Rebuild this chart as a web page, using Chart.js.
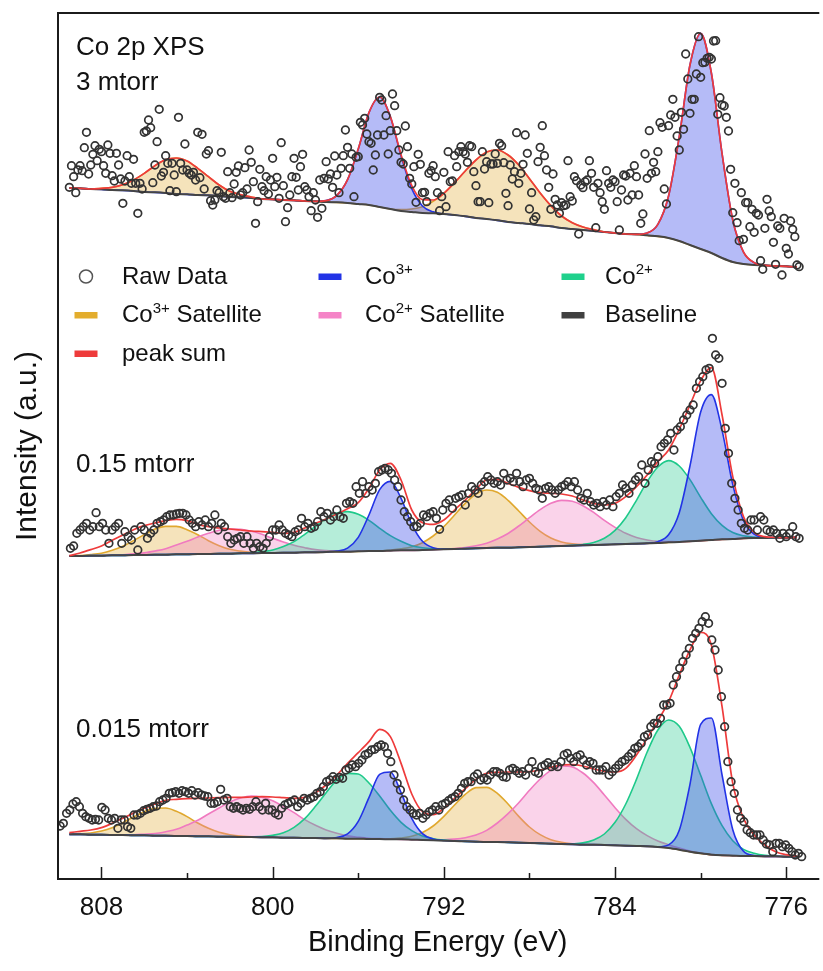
<!DOCTYPE html>
<html>
<head>
<meta charset="utf-8">
<title>Co 2p XPS</title>
<script src="https://cdn.jsdelivr.net/npm/chart.js@4.4.1/dist/chart.umd.min.js"></script>
<style>
  html, body { margin: 0; padding: 0; background: #fff; }
  #chart { display: block; }
</style>
</head>
<body>
<canvas id="chart" width="823" height="971"></canvas>
<script>
// binding energy grid of the fitted curves (eV)
const fitEnergy = [809.5,809,808.5,808,807.5,807,806.5,806,805.5,805,
  804.5,804,803.5,803,802.5,802,801.5,801,800.5,800,
  799.5,799,798.5,798,797.5,797,796.5,796,795.5,795,
  794.5,794,793.5,793,792.5,792,791.5,791,790.5,790,
  789.5,789,788.5,788,787.5,787,786.5,786,785.5,785,
  784.5,784,783.5,783,782.5,782,781.5,781,780.5,780,
  779.5,779,778.5,778,777.5,777,776.5,776,775.5];

const majorTicks = [808, 800, 792, 784, 776];
const minorTicks = [804, 796, 788, 780];

// ---- 3 mtorr (top trace, intensity in a.u. incl. vertical offset) ----
const topBase = [2436,2435,2433,2432,2430,2429,2427,2424,2423,2421,
  2418,2417,2415,2414,2412,2409,2408,2406,2403,2402,
  2400,2399,2397,2396,2394,2393,2391,2388,2385,2379,
  2373,2367,2364,2361,2360,2358,2355,2351,2346,2343,
  2339,2334,2331,2328,2324,2321,2316,2313,2310,2307,
  2304,2301,2298,2297,2294,2291,2286,2277,2265,2253,
  2241,2226,2214,2208,2205,2204,2202,2201,2199];
// component heights above the baseline
const topCo3 = [0,0,0,0,0,0,0,0,0,0,
  0,0,0,0,0,0,0,0,0,0,
  0,0,0,0,4.5,21,70,165,277,330,
  277,165,70,21,4.5,0,0,0,0,0,
  0,0,0,0,0,0,0,0,0,0,
  0,0,0,0,7,36,126,313,540,647,
  540,313,126,36,7,0,0,0,0];
const topCo3Sat = [0,0,0,3,8,17,33,56,80,100,
  108,100,80,56,33,17,8,3,0,0,
  0,0,0,0,0,0,0,0,0,0,
  0,4,9,19,36,62,97,136,174,201,
  211,201,174,136,97,62,36,19,9,4,
  0,0,0,0,0,0,0,0,0,0,
  0,0,0,0,0,0,0,0,0];
const topSum = [2436,2435,2433,2435,2438,2446,2460,2480,2503,2521,
  2526,2517,2495,2470,2445,2426,2416,2409,2403,2402,
  2400,2399,2397,2396,2398,2414,2461,2553,2662,2709,
  2650,2536,2443,2401,2400,2420,2452,2487,2520,2544,
  2550,2535,2505,2464,2421,2383,2352,2332,2319,2311,
  2304,2301,2298,2297,2301,2327,2412,2590,2805,2900,
  2781,2539,2340,2244,2212,2204,2202,2201,2199];
// raw counts, from 809.5 eV in 0.1 eV steps
const topRaw = [2438,2503,2470,2422,2490,2503,2488,2557,2603,2478,
  2505,2537,2563,2518,2552,2545,2503,2480,2565,2540,
  2473,2457,2540,2505,2463,2390,2457,2533,2470,2450,
  2522,2450,2360,2450,2433,2603,2607,2640,2617,2452,
  2505,2575,2672,2472,2483,2533,2510,2428,2510,2475,
  2425,2648,2510,2490,2568,2490,2480,2475,2483,2460,
  2603,2467,2597,2433,2538,2548,2398,2385,2400,2428,
  2422,2543,2410,2405,2485,2422,2407,2448,2483,2502,
  2415,2422,2497,2433,2550,2513,2455,2330,2395,2492,
  2440,2428,2470,2418,2460,2525,2440,2468,2405,2572,
  2443,2335,2377,2415,2470,2525,2468,2430,2500,2537,
  2440,2430,2410,2368,2422,2400,2348,2460,2375,2465,
  2515,2463,2478,2438,2532,2475,2422,2495,2533,2610,
  2558,2495,2538,2410,2528,2530,2633,2625,2645,2598,
  2575,2570,2490,2535,2595,2708,2700,2595,2653,2538,
  2608,2718,2683,2608,2550,2513,2508,2622,2560,2465,
  2448,2500,
  2393,2537,2507,2422,2423,2395,2480,2488,2503,2470,
  2422,2368,2410,2483,2380,2545,2455,2457,2533,2500,
  2545,2560,2545,2538,2513,2563,2560,2485,2443,2395,
  2395,2545,2493,2515,2392,2508,2508,2538,2510,2570,
  2563,2512,2420,2383,2505,2463,2485,2602,2450,2480,
  2507,2595,2540,2373,2422,2340,2350,2515,2558,2623,
  2533,2490,2438,2372,2478,2402,2385,2360,2392,2383,
  2385,2518,2410,2397,2470,2458,2298,2445,2437,2455,
  2460,2518,2480,2438,2317,2450,2422,2395,2372,2488,
  2450,2438,2460,2455,2395,2310,2430,2475,2472,2400,
  2480,2415,2503,2470,2415,2330,2358,2538,2465,2608,
  2480,2513,2485,2545,2632,2618,2433,2388,2623,2655,
  2702,2648,2592,2550,2663,2612,2838,2763,2660,2702,
  2702,2778,2890,2768,2812,2813,2825,2828,2823,2877,
  2878,2657,2707,2685,2682,2648,2607,2492,2362,2450,
  2332,2278,2422,2282,2392,2392,2320,2372,2303,2360,
  2355,2218,2192,2315,2402,2367,2350,2273,2207,2322,
  2315,2175,2345,2255,2238,2337,2312,2290,2205,2200];

// ---- 0.15 mtorr (middle trace) ----
const midBase = [1332,1332,1333,1333,1334,1334,1335,1335,1336,1336,
  1337,1337,1338,1338,1339,1339,1340,1340,1341,1341,
  1342,1342,1343,1343,1344,1345,1345,1346,1347,1347,
  1348,1349,1349,1350,1351,1352,1353,1354,1355,1356,
  1357,1357,1358,1359,1360,1361,1362,1363,1364,1365,
  1366,1367,1368,1369,1370,1371,1373,1374,1376,1378,
  1380,1382,1383,1385,1386,1386,1387,1387,1388];
const midCo3 = [0,0,0,0,0,0,0,0,0,0,
  0,0,0,0,0,0,0,0,0,0,
  0,0,0,0,0,1.8,10.8,42,108,184,
  208,156,78,26,5.6,0.8,0,0,0,0,
  0,0,0,0,0,0,0,0,0,0,
  0,0,0,0,0,3.9,22.6,88,226,386,
  436,327,163,54,11.8,1.7,0,0,0];
const midCo2 = [0,0,0,0,0,0,0,0,0,0,
  0,0,0,0,0,0,0,1.6,4.1,9.2,
  18.5,33,54,78,100,116,120,111,92,68,
  45,27,14,6.7,2.9,1.1,0,0,0,0,
  0,0,0,0,0,0,0.2,0.8,2.7,7.7,
  19.3,42,79,130,185,228,245,228,185,130,
  79,42,19.3,7.7,2.7,0.8,0,0,0];
const midCo3Sat = [0.5,1.3,3.3,7.5,15,27,43,61,77,85,
  84,74,58,40,24,13,6.5,3,1,0,
  0,0,0,0,0,0,0,0,0,0,
  1.7,4.5,10.6,22,41,68,102,136,163,174,
  166,142,109,75,46,25,12,5.4,2.1,0.8,
  0,0,0,0,0,0,0,0,0,0,
  0,0,0,0,0,0,0,0,0];
const midCo2Sat = [0,0,0,0.3,0.8,1.7,3.4,6.3,11,18,
  28,39,51,62,70,74,72,66,56,44,
  32,22,14,8,4.4,2.2,1,0.4,0,0,
  0,0,0,0,0,0.6,1.5,3.5,7.5,14.5,
  26,42.5,64,88,111,129,137,133,119,98,
  73,51,32,18.5,10,4.8,2.2,0.9,0,0,
  0,0,0,0,0,0,0,0,0];
const midSum = [1333,1341,1351,1362,1379,1395,1411,1423,1431,1438,
  1442,1438,1427,1420,1416,1413,1410,1407,1405,1403,
  1400,1403,1416,1430,1443,1458,1474,1492,1535,1590,
  1610,1560,1470,1432,1427,1440,1470,1500,1532,1560,
  1562,1550,1538,1528,1522,1520,1518,1512,1500,1490,
  1485,1490,1510,1540,1575,1615,1650,1712,1785,1858,
  1897,1755,1570,1450,1403,1390,1388,1387,1388];
// raw counts, from 809.45 eV in 0.15 eV steps
const midRaw = [1355,1362,1400,1410,1420,1430,1410,1420,1462,1420,
  1430,1410,1370,1410,1420,1430,1370,1405,1390,1380,
  1410,1350,1420,1410,1385,1400,1410,1430,1435,1440,
  1450,1455,1455,1458,1460,1460,1455,1440,1430,1420,
  1435,1425,1440,1420,1430,1455,1410,1430,1420,1390,
  1370,1380,1385,1390,1370,1390,1370,1355,1370,1360,
  1355,1370,1390,1410,1410,1425,1410,1400,1395,1390,
  1405,1410,1445,1420,1430,1415,1420,1435,1465,1450,
  1460,1440,1450,1470,1450,1445,1490,1495,1490,1540,
  1520,1555,1520,1540,1530,1550,1585,1590,1595,1590,
  1580,1560,1540,1500,1465,1450,1435,1420,
  1420,1430,1455,1450,1460,1465,1445,1412,1470,1490,
  1500,1475,1505,1510,1515,1485,1520,1540,1530,1520,
  1545,1555,1570,1560,1550,1555,1545,1580,1560,1565,
  1555,1580,1555,1540,1560,1565,1550,1535,1530,1505,
  1535,1540,1530,1520,1530,1540,1545,1555,1540,1555,
  1530,1505,1500,1520,1495,1485,1490,1480,1495,1485,
  1500,1480,1510,1520,1545,1535,1520,1545,1560,1570,
  1605,1550,1590,1615,1610,1630,1660,1670,1680,1700,
  1650,1710,1720,1740,1755,1770,1785,1835,1855,1870,
  1890,1895,1985,1935,1925,1850,1715,1640,1550,1505,
  1470,1430,1415,1410,1440,1440,1410,1450,1440,1410,
  1405,1410,1400,1385,1400,1390,1400,1420,1390,1385];

// ---- 0.015 mtorr (bottom trace) ----
const lowBase = [497,497,496,496,495,495,494,494,493,493,
  492,492,491,491,490,490,489,489,488,488,
  487,487,486,486,485,485,484,484,483,483,
  482,482,481,480,479,478,477,476,475,474,
  474,473,472,471,470,469,468,467,466,466,
  465,464,463,462,461,459,456,451,445,440,
  436,434,433,432,432,431,431,430,430];
const lowCo3 = [0,0,0,0,0,0,0,0,0,0,
  0,0,0,0,0,0,0,0,0,0,
  0,0,0,0,0,2.7,14.6,52,124,194,
  202,140,64,19,3.9,0.5,0,0,0,0,
  0,0,0,0,0,0,0,0,0,0,
  0,0,0,0,0,0.8,9.3,58,202,387,
  410,241,78,14,1.4,0,0,0,0];
const lowCo2 = [0,0,0,0,0,0,0,0,0,0,
  0,0,0,0,0,0,0,0.7,2.2,6,
  14.5,31,58,95,137,175,196,194,168,129,
  87,51,27,12,5,1.8,0.6,0,0,0,
  0,0,0,0,0,0,0,1.7,5.3,14,
  33,69,125,200,283,351,384,370,313,234,
  153,89,45,20,8,2.8,0.8,0,0];
const lowCo3Sat = [0.8,2.1,5.2,11,22,37,55,71,82,83,
  74,58,40,24,13,6,2.6,0.9,0,0,
  0,0,0,0,0,0,0,0,0,0.5,
  1.5,4.2,10,22.5,43,73,108,141,162,164,
  146,115,79,48,26,12,5,1.8,0.6,0,
  0,0,0,0,0,0,0,0,0,0,
  0,0,0,0,0,0,0,0,0];
const lowCo2Sat = [0,0,0,0.1,0.3,0.7,1.6,3.4,6.6,12,
  20,33,48,67,86,104,117,123,120,110,
  94,75,55,38,25,15,8.4,4.4,2.2,1,
  0.4,0,0,0,1.1,2.6,5.6,11,20,35,
  57,86,120,158,193,220,234,232,215,186,
  150,113,79,52,32,18,9.7,4.8,2.2,1,
  0,0,0,0,0,0,0,0,0];
const lowSum = [502,506,510,517,530,545,561,575,588,599,
  602,604,605,606,607,608,608,609,610,609,
  607,605,608,622,645,675,710,742,775,812,
  790,710,618,565,556,575,605,634,662,680,
  683,684,684,685,690,698,705,706,702,693,
  686,684,695,735,785,838,895,975,1050,1103,
  1065,880,650,545,495,465,445,436,432];
// raw counts, from 809.93 eV in 0.15 eV steps
const lowRaw = [522,530,560,570,588,595,580,560,550,545,
  540,542,540,578,570,545,540,545,515,540,
  540,520,515,555,555,560,568,572,575,580,
  582,595,600,605,620,622,625,620,628,625,
  620,628,615,622,615,612,610,590,590,595,
  632,600,605,580,575,580,575,570,575,572,
  580,595,580,570,590,570,570,560,555,575,
  585,590,595,600,580,590,605,600,605,610,
  620,625,640,655,660,670,662,668,665,690,
  695,705,700,710,720,735,740,750,752,760,
  765,760,740,715,675,650,630,600,580,570,
  560,555,
  560,545,555,565,570,580,570,585,590,598,
  605,610,620,635,650,655,655,670,678,660,
  665,660,675,685,685,680,670,668,690,695,
  688,680,685,675,695,715,685,680,700,705,
  712,700,705,700,715,735,740,725,715,730,
  735,720,705,715,710,690,690,690,700,675,
  685,695,705,715,720,730,740,755,760,770,
  790,795,820,830,830,845,885,885,890,945,
  970,995,1015,1035,1055,1085,1100,1115,1135,1150,
  1130,1080,1050,990,910,820,715,655,620,570,
  545,535,510,502,495,495,495,480,468,465,
  445,470,470,460,465,455,445,435,440,430];

const traceLabels = ['3 mtorr', '0.15 mtorr', '0.015 mtorr'];

const COL = {
  co3:    { line: '#2233e6', fill: 'rgba(60,75,235,0.38)' },
  co2:    { line: '#1ec98a', fill: 'rgba(30,200,140,0.33)' },
  co3Sat: { line: '#e0a82e', fill: 'rgba(225,170,50,0.33)' },
  co2Sat: { line: '#f07ac0', fill: 'rgba(240,120,190,0.33)' },
  base: '#454545',
  sum: '#ee3b3b',
  raw: '#333333'
};

const FONT = '"Liberation Sans", Arial, sans-serif';
const datasets = [];

function addTrace(base, comps, sum, raw, start, step) {
  const baseIdx = datasets.length;
  datasets.push({
    data: fitEnergy.map((e, i) => ({ x: e, y: base[i] })),
    borderColor: COL.base, borderWidth: 2, pointRadius: 0, fill: false, order: 3
  });
  comps.forEach(c => {
    datasets.push({
      data: fitEnergy.map((e, i) => ({ x: e, y: base[i] + c.h[i] })),
      borderColor: c.col.line, backgroundColor: c.col.fill, borderWidth: 1.6,
      pointRadius: 0, fill: { target: baseIdx }, order: c.order
    });
  });
  datasets.push({
    data: fitEnergy.map((e, i) => ({ x: e, y: sum[i] })),
    borderColor: COL.sum, borderWidth: 1.7, pointRadius: 0, fill: false, order: 2
  });
  datasets.push({
    data: raw.map((v, i) => ({ x: +(start - step * i).toFixed(3), y: v })),
    showLine: false, pointRadius: 3.8, pointBorderWidth: 1.7,
    pointBorderColor: COL.raw, pointBackgroundColor: 'rgba(0,0,0,0)', order: 1
  });
}

addTrace(topBase, [
  { h: topCo3Sat, col: COL.co3Sat, order: 7 },
  { h: topCo3, col: COL.co3, order: 4 }
], topSum, topRaw, 809.5, 0.1);

addTrace(midBase, [
  { h: midCo3Sat, col: COL.co3Sat, order: 7 },
  { h: midCo2Sat, col: COL.co2Sat, order: 6 },
  { h: midCo2, col: COL.co2, order: 5 },
  { h: midCo3, col: COL.co3, order: 4 }
], midSum, midRaw, 809.45, 0.15);

addTrace(lowBase, [
  { h: lowCo3Sat, col: COL.co3Sat, order: 7 },
  { h: lowCo2Sat, col: COL.co2Sat, order: 6 },
  { h: lowCo2, col: COL.co2, order: 5 },
  { h: lowCo3, col: COL.co3, order: 4 }
], lowSum, lowRaw, 809.93, 0.15);

// text with superscript parts: [text, isSup]
function richText(ctx, x, y, parts, size) {
  let cx = x;
  parts.forEach(([t, sup]) => {
    ctx.font = (sup ? Math.round(size * 0.62) : size) + 'px ' + FONT;
    ctx.fillText(t, cx, sup ? y - size * 0.38 : y);
    cx += ctx.measureText(t).width;
  });
}

const legendItems = [
  { kind: 'circle', parts: [['Raw Data']] },
  { kind: COL.co3.line, parts: [['Co'], ['3+', true]] },
  { kind: '#1fd18c', parts: [['Co'], ['2+', true]] },
  { kind: '#e3ad2d', parts: [['Co'], ['3+', true], [' Satellite']] },
  { kind: '#f584c7', parts: [['Co'], ['2+', true], [' Satellite']] },
  { kind: '#404040', parts: [['Baseline']] },
  { kind: '#ee3b3b', parts: [['peak sum']] }
];

const decor = {
  id: 'decor',
  afterDraw(chart) {
    const { ctx, chartArea: a, scales: { x } } = chart;
    ctx.save();
    // frame
    ctx.strokeStyle = '#1b1b1b';
    ctx.lineWidth = 2;
    ctx.beginPath();
    ctx.moveTo(a.right + 2, a.top);
    ctx.lineTo(a.left, a.top);
    ctx.lineTo(a.left, a.bottom);
    ctx.lineTo(a.right + 2, a.bottom);
    ctx.stroke();
    // inward ticks
    ctx.lineWidth = 1.5;
    ctx.beginPath();
    majorTicks.forEach(v => {
      const px = Math.round(x.getPixelForValue(v)) + 0.5;
      ctx.moveTo(px, a.bottom); ctx.lineTo(px, a.bottom - 12);
    });
    minorTicks.forEach(v => {
      const px = Math.round(x.getPixelForValue(v)) + 0.5;
      ctx.moveTo(px, a.bottom); ctx.lineTo(px, a.bottom - 6);
    });
    ctx.stroke();

    // trace labels
    ctx.fillStyle = '#111';
    ctx.textBaseline = 'alphabetic';
    ctx.textAlign = 'left';
    ctx.font = '26px ' + FONT;
    ctx.fillText('Co 2p XPS', 76, 55);
    ctx.fillText(traceLabels[0], 76, 90);
    ctx.fillText(traceLabels[1], 76, 472);
    ctx.fillText(traceLabels[2], 76, 737);

    // legend
    const colSym = [86, 330, 573];
    const colTxt = [122, 365, 605];
    const rowY = [283.5, 322, 360.5];
    legendItems.forEach((it, k) => {
      const c = k % 3, r = Math.floor(k / 3);
      const cy = rowY[r] - 7;
      if (it.kind === 'circle') {
        ctx.strokeStyle = '#555';
        ctx.lineWidth = 1.5;
        ctx.beginPath();
        ctx.arc(colSym[c], cy, 6.5, 0, Math.PI * 2);
        ctx.stroke();
      } else {
        ctx.fillStyle = it.kind;
        ctx.fillRect(colSym[c] - 11.5, cy - 3, 23, 6.5);
      }
      ctx.fillStyle = '#111';
      richText(ctx, colTxt[c], rowY[r], it.parts, 24);
    });
    ctx.restore();
  }
};

new Chart(document.getElementById('chart'), {
  type: 'line',
  data: { datasets },
  options: {
    responsive: false,
    animation: false,
    devicePixelRatio: 1,
    layout: { padding: { top: 13, right: 0, left: 0, bottom: 0 } },
    elements: { line: { cubicInterpolationMode: 'monotone' } },
    plugins: { legend: { display: false }, tooltip: { enabled: false } },
    scales: {
      x: {
        type: 'linear',
        reverse: true,
        min: 774.55,
        max: 810.03,
        afterBuildTicks: s => { s.ticks = majorTicks.map(v => ({ value: v })); },
        afterFit: s => { s.height = 92; },
        grid: { display: false, drawTicks: false },
        border: { display: false },
        ticks: {
          autoSkip: false, maxRotation: 0, padding: 13, color: '#111',
          font: { size: 26, family: FONT },
          callback: v => String(v)
        },
        title: {
          display: true, text: 'Binding Energy (eV)', color: '#111',
          font: { size: 29, family: FONT },
          padding: { top: 0, bottom: 11 }
        }
      },
      y: {
        min: 363,
        max: 2961,
        afterFit: s => { s.width = 58; },
        grid: { display: false, drawTicks: false },
        border: { display: false },
        ticks: { display: false },
        title: {
          display: true, text: 'Intensity (a.u.)', color: '#111',
          font: { size: 30, family: FONT },
          padding: { top: 10, bottom: 0 }
        }
      }
    }
  },
  plugins: [decor]
});
</script>
</body>
</html>
